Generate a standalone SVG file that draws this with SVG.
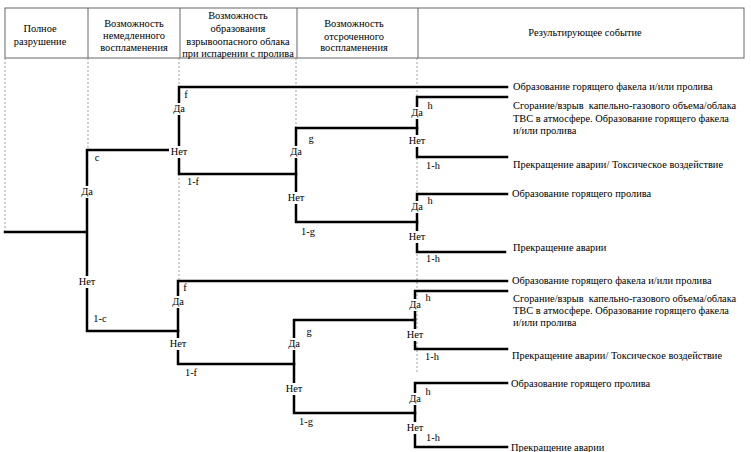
<svg xmlns="http://www.w3.org/2000/svg" width="751" height="452" viewBox="0 0 751 452">
<style>
text{font-family:"Liberation Serif","Times New Roman","DejaVu Serif",serif;font-size:10.4px;fill:#000}
.h{text-anchor:middle}
.m{text-anchor:middle}
.hdr{fill:none;stroke:#666;stroke-width:1}
.guide{fill:none;stroke:#888;stroke-width:0.8;stroke-dasharray:2 2}
.br{fill:none;stroke:#000;stroke-width:2.5;stroke-linecap:square}
.bg{fill:#fff}
</style>
<rect width="751" height="452" fill="#fff"/>
<g id="header">
<rect class="hdr" x="5" y="8" width="739" height="50"/>
<path class="hdr" d="M88,8V58M180,8V58M297,8V58M418,8V58"/>
<text class="h" x="40" y="32">Полное</text>
<text class="h" x="40" y="45">разрушение</text>
<text class="h" x="134" y="27">Возможность</text>
<text class="h" x="134" y="39">немедленного</text>
<text class="h" x="134" y="51">воспламенения</text>
<text class="h" x="238" y="19">Возможность</text>
<text class="h" x="238" y="32">образования</text>
<text class="h" x="238" y="45">взрывоопасного облака</text>
<text class="h" x="238" y="57">при испарении с пролива</text>
<text class="h" x="354" y="27">Возможность</text>
<text class="h" x="354" y="40">отсроченного</text>
<text class="h" x="354" y="51">воспламенения</text>
<text class="h" x="585" y="36">Результирующее событие</text>
</g>
<g id="guides">
<path class="guide" d="M5,58V232M88,58V150M179,58V281M296,58V128M417,58V373"/>
</g>
<g id="connectors">
<path class="br" d="M5,232H87M87,150V331M87,150H179M87,331H178"/>
<path class="br" d="M179,87V174M179,87H507M179,174H296"/>
<path class="br" d="M296,128V222M296,128H417M296,222H417"/>
<path class="br" d="M417,97V157M417,97H507M417,157H507"/>
<path class="br" d="M417,194V252M417,194H507M417,252H505"/>
<path class="br" d="M178,281V364M178,281H507M178,364H294"/>
<path class="br" d="M294,320V413M294,320H415M294,413H415"/>
<path class="br" d="M415,291V349M415,291H507M415,349H507"/>
<path class="br" d="M415,383V447M415,383H507M415,447H507"/>
</g>
<g id="node-c">
<text class="m" x="97" y="161">c</text>
<rect class="bg" x="79" y="186" width="16" height="12"/><text class="m" x="87" y="195">Да</text>
<rect class="bg" x="77" y="276" width="20" height="12"/><text class="m" x="87" y="285">Нет</text>
<text class="m" x="100" y="322">1-c</text>
</g>
<g id="node-f1">
<text class="m" x="186" y="98">f</text>
<rect class="bg" x="171" y="103" width="16" height="12"/><text class="m" x="179" y="112">Да</text>
<rect class="bg" x="169" y="146" width="20" height="12"/><text class="m" x="179" y="155">Нет</text>
<text class="m" x="193" y="185">1-f</text>
</g>
<g id="node-g1">
<text class="m" x="311" y="142">g</text>
<rect class="bg" x="288" y="146" width="16" height="12"/><text class="m" x="296" y="155">Да</text>
<rect class="bg" x="286" y="192" width="20" height="12"/><text class="m" x="296" y="201">Нет</text>
<text class="m" x="308" y="235">1-g</text>
</g>
<g id="node-h1">
<text class="m" x="430" y="109">h</text>
<rect class="bg" x="409" y="107" width="16" height="12"/><text class="m" x="417" y="116">Да</text>
<rect class="bg" x="407" y="135" width="20" height="12"/><text class="m" x="417" y="144">Нет</text>
<text class="m" x="433" y="169">1-h</text>
</g>
<g id="node-h2">
<text class="m" x="430" y="204">h</text>
<rect class="bg" x="409" y="201" width="16" height="12"/><text class="m" x="417" y="210">Да</text>
<rect class="bg" x="407" y="231" width="20" height="12"/><text class="m" x="417" y="240">Нет</text>
<text class="m" x="433" y="262">1-h</text>
</g>
<g id="node-f2">
<text class="m" x="185" y="291">f</text>
<rect class="bg" x="170" y="296" width="16" height="12"/><text class="m" x="178" y="305">Да</text>
<rect class="bg" x="168" y="338" width="20" height="12"/><text class="m" x="178" y="347">Нет</text>
<text class="m" x="191" y="376">1-f</text>
</g>
<g id="node-g2">
<text class="m" x="309" y="335">g</text>
<rect class="bg" x="286" y="338" width="16" height="12"/><text class="m" x="294" y="347">Да</text>
<rect class="bg" x="284" y="383" width="20" height="12"/><text class="m" x="294" y="392">Нет</text>
<text class="m" x="306" y="425">1-g</text>
</g>
<g id="node-h3">
<text class="m" x="428" y="301">h</text>
<rect class="bg" x="407" y="299" width="16" height="12"/><text class="m" x="415" y="308">Да</text>
<rect class="bg" x="405" y="329" width="20" height="12"/><text class="m" x="415" y="338">Нет</text>
<text class="m" x="432" y="360">1-h</text>
</g>
<g id="node-h4">
<text class="m" x="428" y="395">h</text>
<rect class="bg" x="407" y="393" width="16" height="12"/><text class="m" x="415" y="402">Да</text>
<rect class="bg" x="405" y="422" width="20" height="12"/><text class="m" x="415" y="431">Нет</text>
<text class="m" x="433" y="441">1-h</text>
</g>
<g id="outcome-1"><text x="513" y="90">Образование горящего факела и/или пролива</text></g>
<g id="outcome-2">
<text x="513" y="109" xml:space="preserve">Сгорание/взрыв  капельно-газового объема/облака</text>
<text x="513" y="122">ТВС в атмосфере. Образование горящего факела</text>
<text x="513" y="134">и/или пролива</text>
</g>
<g id="outcome-3"><text x="513" y="168">Прекращение аварии/ Токсическое воздействие</text></g>
<g id="outcome-4"><text x="512" y="197">Образование горящего пролива</text></g>
<g id="outcome-5"><text x="513" y="251">Прекращение аварии</text></g>
<g id="outcome-6"><text x="512" y="284">Образование горящего факела и/или пролива</text></g>
<g id="outcome-7">
<text x="513" y="302" xml:space="preserve">Сгорание/взрыв  капельно-газового объема/облака</text>
<text x="513" y="314">ТВС в атмосфере. Образование горящего факела</text>
<text x="513" y="326">и/или пролива</text>
</g>
<g id="outcome-8"><text x="512" y="359">Прекращение аварии/ Токсическое воздействие</text></g>
<g id="outcome-9"><text x="511" y="387">Образование горящего пролива</text></g>
<g id="outcome-10"><text x="511" y="451">Прекращение аварии</text></g>
</svg>
